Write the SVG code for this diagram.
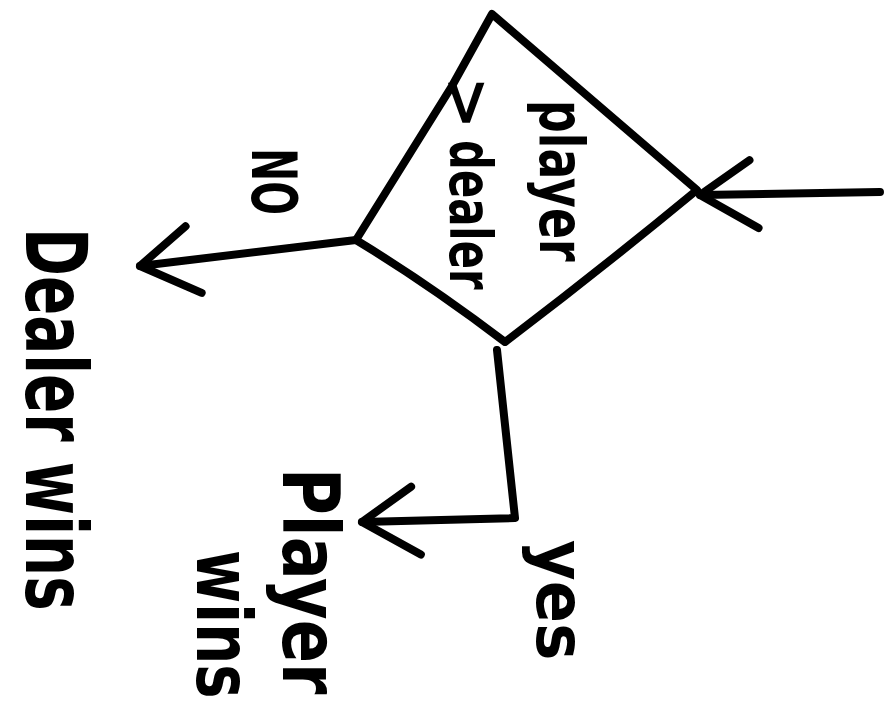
<svg xmlns="http://www.w3.org/2000/svg" width="890" height="716" viewBox="0 0 890 716">
  <defs>
    <style>
      .ln { fill: none; stroke: #000; stroke-width: 8; stroke-linecap: round; stroke-linejoin: round; }
      .tx { font-family: "DejaVu Sans", "Liberation Sans", sans-serif; font-weight: bold; fill: #000; }
    </style>
    <marker id="chev" markerUnits="userSpaceOnUse" markerWidth="120" markerHeight="120" refX="0" refY="0" orient="auto" style="overflow:visible">
      <path d="M-58,-34 L0,0 L-50,34" fill="none" stroke="#000" stroke-width="8" stroke-linecap="round" stroke-linejoin="round"/>
    </marker>
  </defs>
  <rect width="890" height="716" fill="#fff"/>

  <g id="decision">
    <path class="ln" d="M492,14 L697,190 Q600,270 505,342 Q430,285 356,240 L452,86 Z"/>
    <text class="tx" font-size="62" transform="translate(540,100) rotate(90) scale(0.74,1)">player</text>
    <text class="tx" font-size="64" transform="translate(446,76) rotate(90)">&gt;</text>
    <text class="tx" font-size="58" transform="translate(450,140) rotate(90) scale(0.72,1)">dealer</text>
  </g>

  <g id="dealer-wins">
    <text class="tx" font-size="85" transform="translate(26,228) rotate(90) scale(0.68,1)">Dealer wins</text>
  </g>

  <g id="player-wins">
    <text class="tx" font-size="78" transform="translate(283,468) rotate(90) scale(0.82,1)">Player</text>
    <text class="tx" font-size="76" transform="translate(197,550) rotate(90) scale(0.76,1)">wins</text>
  </g>

  <g id="connectors">
    <path class="ln" marker-end="url(#chev)" d="M880,192 L700,195"/>
    <path class="ln" marker-end="url(#chev)" d="M356,240 L140,266"/>
    <path class="ln" marker-end="url(#chev)" d="M497,350 L515,518 L362,522"/>
    <text class="tx" font-size="62" transform="translate(252,148) rotate(90) scale(0.64,1)">NO</text>
    <text class="tx" font-size="68" transform="translate(537,540) rotate(90) scale(0.92,1)">yes</text>
  </g>
</svg>
